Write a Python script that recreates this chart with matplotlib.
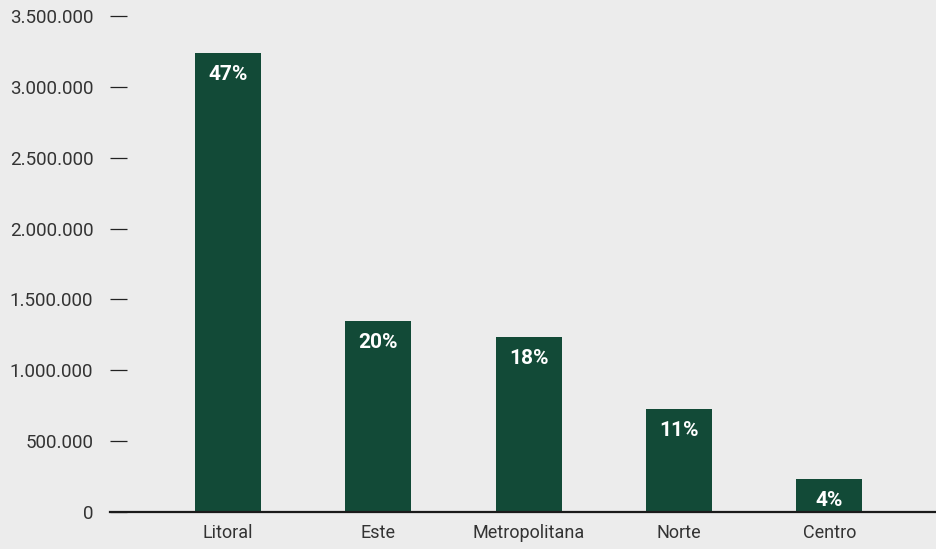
import matplotlib.pyplot as plt
from matplotlib.ticker import FuncFormatter

plt.rcParams["font.family"] = ["Roboto", "DejaVu Sans"]

regions = ["Litoral", "Este", "Metropolitana", "Norte", "Centro"]
values = [3239000, 1348000, 1235000, 727000, 233000]
shares = ["47%", "20%", "18%", "11%", "4%"]

BG = "#ececec"
GREEN = "#124a37"

fig = plt.figure(figsize=(9.37, 5.49), dpi=100, facecolor=BG)
ax = fig.add_axes([110 / 937, 37 / 549, 827 / 937, 496 / 549])
ax.set_facecolor(BG)

x = list(range(len(regions)))
bars = ax.bar(x, values, width=0.44, color=GREEN)

# share labels sit just inside the top of each bar
for b, s in zip(bars, shares):
    ax.annotate(s, (b.get_x() + b.get_width() / 2, b.get_height()),
                xytext=(0, -22), textcoords="offset pixels",
                ha="center", va="center", color="white",
                fontsize=15, fontweight="bold")

ax.set_xlim(-0.785, 4.717)
ax.set_ylim(0, 3500000)
ax.set_yticks(range(0, 3500001, 500000))
ax.yaxis.set_major_formatter(FuncFormatter(lambda v, p: f"{int(v):,}".replace(",", ".")))
ax.set_xticks(x)
ax.set_xticklabels(regions)

for side in ["top", "right", "left"]:
    ax.spines[side].set_visible(False)
ax.spines["bottom"].set_color("#1a1a1a")
ax.spines["bottom"].set_linewidth(1.6)

ax.tick_params(axis="y", direction="in", length=12.5, width=0.9, color="#222222",
               pad=12, labelsize=13.5, labelcolor="#333333")
ax.tick_params(axis="x", length=0, pad=9, labelsize=13, labelcolor="#333333")

fig.savefig("out.png", dpi=100, facecolor=BG)
